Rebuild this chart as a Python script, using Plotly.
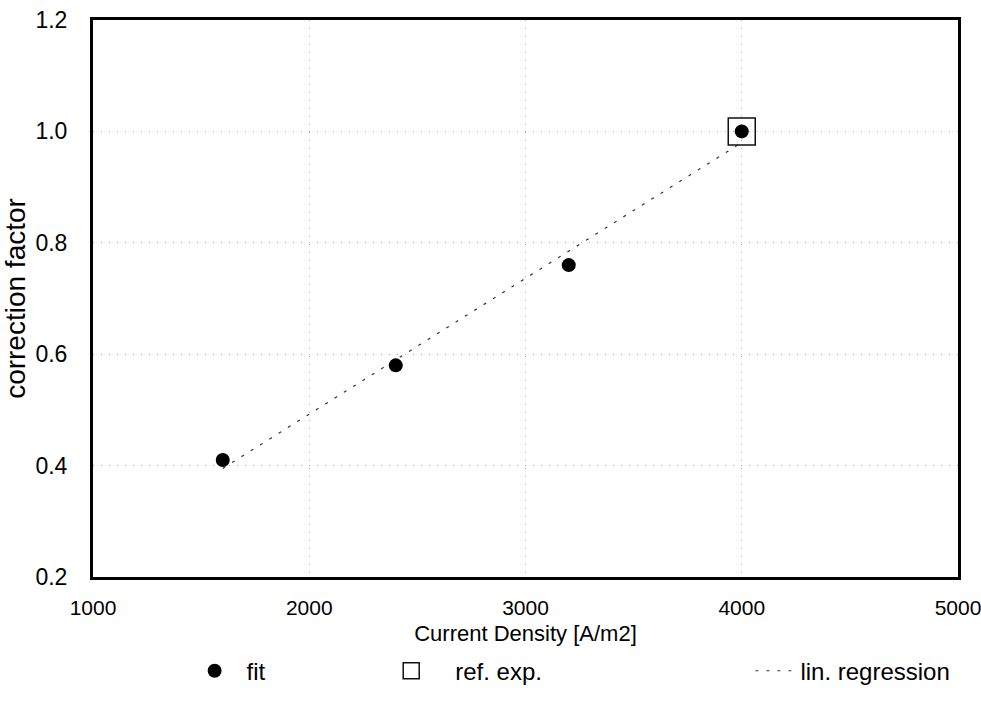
import plotly.graph_objects as go

# Measured correction factors for each current density
current_density = [1600, 2400, 3200, 4000]
correction_factor = [0.41, 0.58, 0.76, 1.00]

# Reference experiment point
ref_density = [4000]
ref_factor = [1.00]

# Linear regression line end points
reg_density = [1600, 4000]
reg_factor = [0.395, 0.98]

x_ticks = [1000, 2000, 3000, 4000, 5000]
y_ticks = [0.2, 0.4, 0.6, 0.8, 1.0, 1.2]

FONT = "Liberation Sans, Arial, Helvetica, sans-serif"

fig = go.Figure()

fig.add_trace(go.Scatter(
    x=reg_density, y=reg_factor, mode="lines", name="lin. regression",
    line=dict(color="#333333", width=1.2, dash="3px,8px"),
    legend="legend3",
))
fig.add_trace(go.Scatter(
    x=ref_density, y=ref_factor, mode="markers", name="ref. exp.",
    marker=dict(symbol="square-open", size=27, color="#111111",
                line=dict(width=1.5, color="#111111")),
    legend="legend2",
))
fig.add_trace(go.Scatter(
    x=current_density, y=correction_factor, mode="markers", name="fit",
    marker=dict(symbol="circle", size=14, color="black"),
    legend="legend",
))

axis_common = dict(
    showline=True, linecolor="black", linewidth=3, mirror=True,
    showgrid=True, gridcolor="#a8a8a8", gridwidth=1, griddash="1px,7px",
    zeroline=False, automargin=False,
    ticks="outside", tickcolor="rgba(0,0,0,0)",
    ticklabeloverflow="allow",
)

fig.update_xaxes(
    range=[1000, 5000], tickvals=x_ticks, ticktext=[str(v) for v in x_ticks],
    ticklen=10,
    tickfont=dict(family=FONT, size=21, color="black"),
    title=dict(text="Current Density [A/m2]", standoff=8,
               font=dict(family=FONT, size=22, color="black")),
    **axis_common,
)
fig.update_yaxes(
    range=[0.2, 1.2], tickvals=y_ticks, tickformat=".1f",
    ticklen=18,
    tickfont=dict(family=FONT, size=23, color="black"),
    title=dict(text="correction factor", standoff=10,
               font=dict(family=FONT, size=28, color="black")),
    **axis_common,
)

legend_common = dict(
    orientation="h", yanchor="middle", xanchor="left", y=-0.169,
    font=dict(family=FONT, size=24, color="black"),
    bgcolor="rgba(0,0,0,0)", itemsizing="trace",
)

fig.update_layout(
    width=981, height=712,
    margin=dict(l=93, r=23, t=20, b=135),
    paper_bgcolor="white", plot_bgcolor="white",
    showlegend=True,
    legend=dict(x=0.1036, itemwidth=54, **legend_common),
    legend2=dict(x=0.317, itemwidth=78, **legend_common),
    legend3=dict(x=0.760, itemwidth=40, **legend_common),
)

fig.write_html("out.html")
